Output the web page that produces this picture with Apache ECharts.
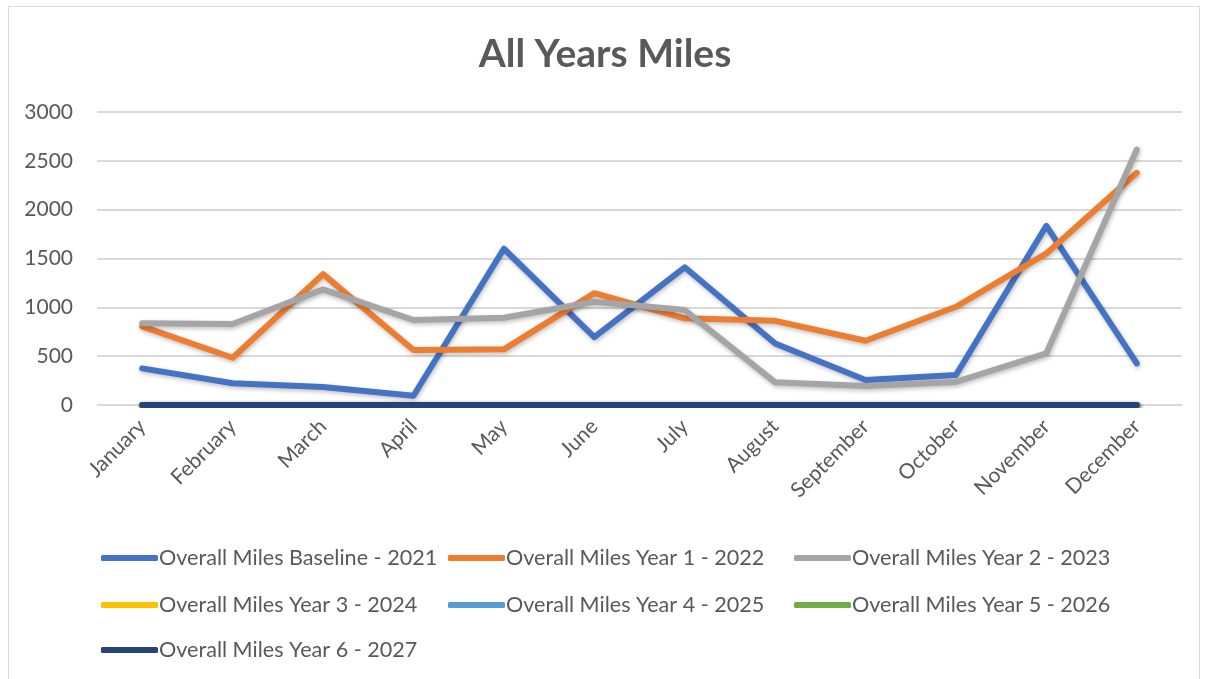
<!DOCTYPE html>
<html>
<head>
<meta charset="utf-8">
<script src="https://cdn.jsdelivr.net/npm/echarts@6/dist/echarts.min.js"></script>
<style>
html,body{margin:0;padding:0;background:#fff;}
#frame{position:absolute;left:8px;top:6px;width:1192px;height:700px;border:1px solid #d9d9d9;box-sizing:border-box;}
#chart{position:absolute;left:0;top:0;width:1210px;height:679px;}
</style>
</head>
<body>
<div id="frame"></div>
<div id="chart"></div>
<script>
const months = ['January','February','March','April','May','June','July','August','September','October','November','December'];
const seriesNames = ['Overall Miles Baseline - 2021','Overall Miles Year 1 - 2022','Overall Miles Year 2 - 2023','Overall Miles Year 3 - 2024','Overall Miles Year 4 - 2025','Overall Miles Year 5 - 2026','Overall Miles Year 6 - 2027'];
const baseline2021 = [375, 222, 185, 95, 1600, 695, 1410, 630, 256, 307, 1835, 426];
const year1_2022 = [805, 484, 1340, 563, 570, 1145, 887, 862, 658, 1006, 1552, 2377];
const year2_2023 = [836, 830, 1184, 870, 893, 1057, 972, 232, 194, 236, 529, 2616];
const year3_2024 = [0,0,0,0,0,0,0,0,0,0,0,0];
const year4_2025 = [0,0,0,0,0,0,0,0,0,0,0,0];
const year5_2026 = [0,0,0,0,0,0,0,0,0,0,0,0];
const year6_2027 = [0,0,0,0,0,0,0,0,0,0,0,0];
const yTicks = [0, 500, 1000, 1500, 2000, 2500, 3000];
const colors = ['#4472C4','#ED7D31','#A5A5A5','#FFC000','#5B9BD5','#70AD47','#264478'];

const allData = [baseline2021, year1_2022, year2_2023, year3_2024, year4_2025, year5_2026, year6_2027];
const FONT = 'Lato';
const chart = echarts.init(document.getElementById('chart'), null, {renderer:'canvas'});

const colLeft = [96, 443, 789];
const rowTop = [542, 589, 634];
const legends = seriesNames.map((n, i) => ({
  left: colLeft[i % 3], top: rowTop[Math.floor(i / 3)],
  itemGap: 0, itemWidth: 57, itemHeight: 6, icon: 'roundRect',
  data: [n],
  textStyle: {fontFamily: FONT, fontSize: 21.6, color: '#595959', padding: [0,0,0,-4]}
}));

chart.setOption({
  animation: false,
  color: colors,
  title: {
    text: 'All Years Miles', left: 'center', top: 30,
    textStyle: {fontFamily: FONT, fontSize: 39, fontWeight: 'bold', color: '#595959'}
  },
  legend: legends,
  grid: {left: 97, right: 28, top: 112, bottom: 274, containLabel: false},
  xAxis: {
    type: 'category', data: months, boundaryGap: true,
    axisLine: {show: true, lineStyle: {color: '#d9d9d9', width: 1}},
    axisTick: {show: false},
    axisLabel: {rotate: 45, fontFamily: FONT, fontSize: 21, color: '#595959', margin: 18, interval: 0}
  },
  yAxis: {
    type: 'value', min: yTicks[0], max: yTicks[yTicks.length-1], interval: 500,
    axisLine: {show: false}, axisTick: {show: false},
    axisLabel: {fontFamily: FONT, fontSize: 21, color: '#595959', margin: 24, formatter: v => String(v)},
    splitLine: {lineStyle: {color: '#d9d9d9', width: 2}}
  },
  series: allData.map((d, i) => ({
    name: seriesNames[i], type: 'line', data: d,
    symbol: 'none', showSymbol: false,
    lineStyle: {width: 6, color: colors[i], cap: 'round', join: 'round',
      shadowColor: 'rgba(0,0,0,0.25)', shadowBlur: 4, shadowOffsetX: 1, shadowOffsetY: 2},
    itemStyle: {color: colors[i]},
    z: 2 + i
  }))
});
</script>
</body>
</html>
